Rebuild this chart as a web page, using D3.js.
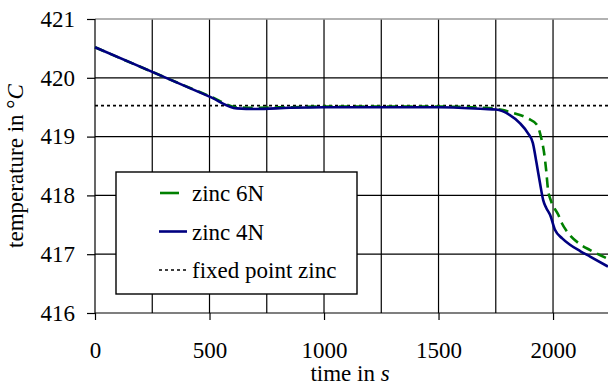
<!DOCTYPE html>
<html>
<head>
<meta charset="utf-8">
<script src="https://cdn.jsdelivr.net/npm/d3@7"></script>
<style>
    body { margin: 0; background: #fff; }
    svg, svg text { font-family: "Liberation Serif", Tinos, "Times New Roman", Times, "DejaVu Serif", serif; }
</style>
</head>
<body>
<div id="chart"></div>
<script>
// time in s, temperature in °C
const zinc6N = [
    [0, 420.52], [250, 420.10], [500, 419.69], [620, 419.50], [700, 419.49],
    [850, 419.50], [1000, 419.51], [1500, 419.51], [1700, 419.49], [1770, 419.46],
    [1820, 419.41], [1890, 419.31], [1930, 419.20], [1950, 418.95], [1960, 418.75],
    [1970, 418.43], [1978, 418.10], [1990, 417.92], [2023, 417.67], [2038, 417.53],
    [2064, 417.37], [2118, 417.17], [2162, 417.07], [2240, 416.92]
];
const zinc4N = [
    [0, 420.52], [250, 420.10], [500, 419.68], [620, 419.48], [700, 419.47],
    [850, 419.49], [1000, 419.50], [1500, 419.50], [1700, 419.47], [1750, 419.46],
    [1810, 419.37], [1855, 419.23], [1890, 419.06], [1912, 418.89], [1928, 418.55],
    [1943, 418.21], [1957, 417.92], [1970, 417.79], [1987, 417.67], [2009, 417.41],
    [2040, 417.27], [2074, 417.16], [2120, 417.05], [2162, 416.96], [2240, 416.79]
];
const fixedPoint = 419.527;
const xTicks = [0, 500, 1000, 1500, 2000];
const xGrid = [250, 500, 750, 1000, 1250, 1500, 1750, 2000];
const yTicks = [416, 417, 418, 419, 420, 421];
const legendItems = ['zinc 6N', 'zinc 4N', 'fixed point zinc'];

const serif = '"Liberation Serif", Tinos, "Times New Roman", Times, "DejaVu Serif", serif';

const chart = {
    totalWidth: 608,
    totalHeight: 387,
    margin: { top: 19, bottom: 74, left: 95, right: 0 }
};
chart.width = chart.totalWidth - chart.margin.left - chart.margin.right;
chart.height = chart.totalHeight - chart.margin.top - chart.margin.bottom;

const svg = d3.select('#chart')
    .append('svg')
    .attr('width', chart.totalWidth)
    .attr('height', chart.totalHeight)
    .attr('font-family', serif);

const g = svg.append('g')
    .attr('transform', `translate(${chart.margin.left}, ${chart.margin.top})`);

const xScale = d3.scaleLinear()
    .domain([0, 2240])
    .range([0, chart.width]);

const yScale = d3.scaleLinear()
    .domain([416, 421])
    .range([chart.height, 0]);

// grid
g.append('g')
    .selectAll('line')
    .data(xGrid)
    .join('line')
    .attr('x1', d => xScale(d)).attr('x2', d => xScale(d))
    .attr('y1', 0).attr('y2', chart.height)
    .attr('stroke', '#000').attr('stroke-width', 1.2);

g.append('g')
    .selectAll('line')
    .data(yTicks.filter(d => d > 416))
    .join('line')
    .attr('x1', 0).attr('x2', chart.width)
    .attr('y1', d => yScale(d)).attr('y2', d => yScale(d))
    .attr('stroke', d => d === 421 ? '#999' : '#000')
    .attr('stroke-width', d => d === 421 ? 1.6 : 1.2);

// axes
const yAxis = d3.axisLeft(yScale)
    .tickValues(yTicks)
    .tickFormat(d3.format('d'))
    .tickSize(8)
    .tickPadding(12);

const xAxis = d3.axisBottom(xScale)
    .tickValues(xTicks)
    .tickFormat(d3.format('d'))
    .tickSize(7)
    .tickPadding(22);

[g.append('g').call(yAxis),
 g.append('g').attr('transform', `translate(0, ${chart.height})`).call(xAxis)]
    .forEach(a => {
        a.attr('font-family', serif).attr('font-size', 23);
        a.select('.domain').remove();
        a.selectAll('line').attr('stroke', '#000').attr('stroke-width', 1.2);
        a.selectAll('text').attr('fill', '#000');
    });

g.append('line')
    .attr('x1', 0).attr('x2', 0).attr('y1', 0).attr('y2', chart.height)
    .attr('stroke', '#000').attr('stroke-width', 1.2);
g.append('line')
    .attr('x1', 0).attr('x2', chart.width).attr('y1', chart.height).attr('y2', chart.height)
    .attr('stroke', '#000').attr('stroke-width', 1.2);

// fixed point
g.append('line')
    .attr('x1', 0).attr('x2', chart.width)
    .attr('y1', yScale(fixedPoint)).attr('y2', yScale(fixedPoint))
    .attr('stroke', '#000').attr('stroke-width', 1.6)
    .attr('stroke-dasharray', '3,3');

// lines
const line = d3.line()
    .curve(d3.curveMonotoneX)
    .x(d => xScale(d[0]))
    .y(d => yScale(d[1]));

g.append('path')
    .attr('d', line(zinc6N))
    .attr('fill', 'none')
    .attr('stroke', '#008000').attr('stroke-width', 2.6)
    .attr('stroke-dasharray', '10,6');

g.append('path')
    .attr('d', line(zinc4N))
    .attr('fill', 'none')
    .attr('stroke', '#000080').attr('stroke-width', 2.6);

// legend
const legend = svg.append('g').attr('transform', 'translate(116, 172)');
legend.append('rect')
    .attr('x', 0).attr('y', 0).attr('width', 241).attr('height', 122)
    .attr('fill', '#fff').attr('stroke', '#000').attr('stroke-width', 1.4);

const rows = legend.selectAll('g.row')
    .data(legendItems)
    .join('g')
    .attr('class', 'row')
    .attr('transform', (d, i) => `translate(0, ${21 + i * 38.5})`);

rows.append('line')
    .attr('x1', (d, i) => i === 0 ? 44 : 43)
    .attr('x2', (d, i) => i === 0 ? 63 : 71)
    .attr('y1', 0).attr('y2', 0)
    .attr('stroke', (d, i) => ['#008000', '#000080', '#000'][i])
    .attr('stroke-width', (d, i) => i === 2 ? 1.6 : 2.6)
    .attr('stroke-dasharray', (d, i) => i === 2 ? '3,3' : null);

rows.append('text')
    .attr('x', 76).attr('y', 8)
    .attr('font-size', 23)
    .text(d => d);

// axis titles
const xt = svg.append('text')
    .attr('x', 350).attr('y', 381)
    .attr('text-anchor', 'middle')
    .attr('font-size', 23);
xt.append('tspan').text('time in ');
xt.append('tspan').attr('font-style', 'italic').text('s');

const yt = svg.append('text')
    .attr('transform', `translate(23, ${chart.margin.top + chart.height / 2}) rotate(-90)`)
    .attr('text-anchor', 'middle')
    .attr('font-size', 23);
yt.append('tspan').text('temperature in °');
yt.append('tspan').attr('font-style', 'italic').text('C');
</script>
</body>
</html>
